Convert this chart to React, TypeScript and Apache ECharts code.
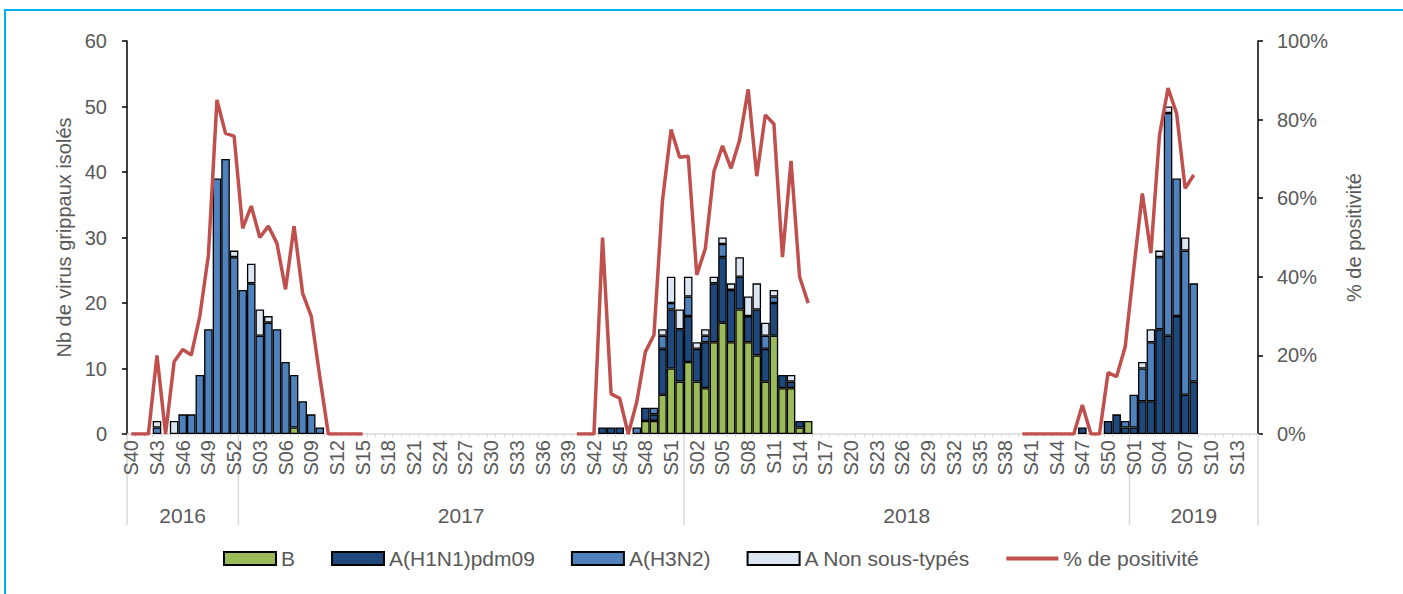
import React, { useEffect, useRef } from "react";
import * as echarts from "echarts";

// Years shown on the x axis and their week ranges
const YEARS = [
  { year: "2016", first: 40, last: 52 },
  { year: "2017", first: 1, last: 52 },
  { year: "2018", first: 1, last: 52 },
  { year: "2019", first: 1, last: 15 },
];

const categories: string[] = [];
const categoryYear: string[] = [];
YEARS.forEach((y) => {
  for (let w = y.first; w <= y.last; w++) {
    categories.push("S" + String(w).padStart(2, "0"));
    categoryYear.push(y.year);
  }
});

// ---- Season 2016-2017 (bars start 2016 S43, positivity starts 2016 S40)
const s1BarStart = ["2016", "S43"];
const s1B = [0, 0, 0, 0, 0, 0, 0, 0, 0, 0, 0, 0, 0, 0, 0, 0, 1, 0, 0, 0];
const s1H1N1 = [0, 0, 0, 0, 0, 0, 0, 0, 0, 0, 0, 0, 0, 0, 0, 0, 0, 0, 0, 0];
const s1H3N2 = [1, 0, 0, 3, 3, 9, 16, 39, 42, 27, 22, 23, 15, 17, 16, 11, 8, 5, 3, 1];
const s1NST = [1, 0, 2, 0, 0, 0, 0, 0, 0, 1, 0, 3, 4, 1, 0, 0, 0, 0, 0, 0];
const s1PosStart = ["2016", "S40"];
const s1Pos = [0, 0, 0, 20, 0, 18.4, 21.5, 20.1, 30, 45.5, 85, 76.5, 75.8, 52.3, 58, 50, 52.9, 48.5, 36.8, 52.9, 35.8, 30, 14.6, 0, 0, 0, 0, 0];

// ---- Season 2017-2018 (bars start 2017 S43, positivity starts 2017 S40)
const s2BarStart = ["2017", "S43"];
const s2B = [0, 0, 0, 0, 0, 2, 2, 6, 10, 8, 11, 8, 7, 14, 17, 14, 19, 14, 12, 8, 15, 7, 7, 1, 2];
const s2H1N1 = [1, 1, 1, 0, 0, 2, 1, 7, 9, 8, 7, 5, 7, 9, 10, 8, 5, 4, 7, 5, 5, 2, 1, 1, 0];
const s2H3N2 = [0, 0, 0, 0, 1, 0, 1, 2, 1, 0, 3, 0, 1, 0, 2, 0, 0, 0, 0, 2, 1, 0, 0, 0, 0];
const s2NST = [0, 0, 0, 0, 0, 0, 0, 1, 4, 3, 3, 1, 1, 1, 1, 1, 3, 3, 4, 2, 1, 0, 1, 0, 0];
const s2PosStart = ["2017", "S40"];
const s2Pos = [0, 0, 0, 50, 10.2, 9.1, 0, 8.2, 20.9, 25.2, 59.5, 77.5, 70.4, 70.7, 40.5, 47.2, 66.8, 73.3, 67.6, 74.8, 87.7, 65.6, 81.2, 78.9, 45, 69.5, 40, 33.3];

// ---- Season 2018-2019 (bars start 2018 S47, positivity starts 2018 S40)
const s3BarStart = ["2018", "S47"];
const s3B = [0, 0, 0, 0, 0, 0, 0, 0, 0, 0, 0, 0, 0, 0];
const s3H1N1 = [1, 0, 0, 2, 3, 1, 1, 5, 5, 16, 15, 18, 6, 8];
const s3H3N2 = [0, 0, 0, 0, 0, 1, 5, 5, 9, 11, 34, 21, 22, 15];
const s3NST = [0, 0, 0, 0, 0, 0, 0, 1, 2, 1, 1, 0, 2, 0];
const s3PosStart = ["2018", "S40"];
const s3Pos = [0, 0, 0, 0, 0, 0, 0, 7.4, 0, 0, 15.6, 14.6, 22.2, 42, 61.2, 46, 76, 88, 81.6, 62.5, 65.9];

const leftTicks = { min: 0, max: 60, interval: 10 };
const rightTicks = { min: 0, max: 100, interval: 20 };

const SERIES_NAMES = ["B", "A(H1N1)pdm09", "A(H3N2)", "A Non sous-typés", "% de positivité"];
const COLORS = ["#9BBB59", "#1F497D", "#4F81BD", "#DCE6F2", "#C0504D"];

function indexOf(key: string[]) {
  for (let i = 0; i < categories.length; i++) {
    if (categoryYear[i] === key[0] && categories[i] === key[1]) return i;
  }
  return 0;
}

function build(parts: [string[], number[]][], zeroAsNull: boolean) {
  const out: (number | null)[] = categories.map(() => null);
  parts.forEach(([start, vals]) => {
    const s = indexOf(start);
    vals.forEach((v, k) => {
      out[s + k] = zeroAsNull && v === 0 ? null : v;
    });
  });
  return out;
}

const TXT = "#595959";
const FONT = "Liberation Sans, Arial, sans-serif";

export default function App() {
  const ref = useRef<HTMLDivElement>(null);
  useEffect(() => {
    if (!ref.current) return;
    const chart = echarts.init(ref.current, undefined, { renderer: "svg" });
    const bData = build([[s1BarStart, s1B], [s2BarStart, s2B], [s3BarStart, s3B]], true);
    const h1Data = build([[s1BarStart, s1H1N1], [s2BarStart, s2H1N1], [s3BarStart, s3H1N1]], true);
    const h3Data = build([[s1BarStart, s1H3N2], [s2BarStart, s2H3N2], [s3BarStart, s3H3N2]], true);
    const nstData = build([[s1BarStart, s1NST], [s2BarStart, s2NST], [s3BarStart, s3NST]], true);
    const posData = build([[s1PosStart, s1Pos], [s2PosStart, s2Pos], [s3PosStart, s3Pos]], false);

    const barCommon = {
      type: "bar" as const,
      stack: "total",
      barCategoryGap: "0%",
      yAxisIndex: 0,
    };
    const border = { borderColor: "#000", borderWidth: 1.3 };

    chart.setOption({
      animation: false,
      textStyle: { fontFamily: FONT },
      grid: { left: 127, right: 145, top: 41, bottom: 160, containLabel: false },
      legend: {
        data: [
          { name: SERIES_NAMES[0], icon: "rect" },
          { name: SERIES_NAMES[1], icon: "rect" },
          { name: SERIES_NAMES[2], icon: "rect" },
          { name: SERIES_NAMES[3], icon: "rect" },
          {
            name: SERIES_NAMES[4],
            icon: "path://M0,0 L52,0 L52,4 L0,4 Z",
            itemStyle: { color: COLORS[4], borderWidth: 0 },
          },
        ],
        top: 543,
        left: 218,
        itemWidth: 52,
        itemHeight: 13,
        itemGap: 36,
        textStyle: { fontSize: 21, color: TXT, fontFamily: FONT },
      },
      xAxis: {
        type: "category",
        data: categories,
        axisLine: { lineStyle: { color: "#D9D9D9", width: 1.5 } },
        axisTick: { show: true, interval: 0, length: 3, lineStyle: { color: "#D9D9D9" } },
        axisLabel: { interval: 2, rotate: 90, fontSize: 20, color: TXT, margin: 6, fontFamily: FONT },
        splitLine: { show: false },
      },
      yAxis: [
        {
          type: "value",
          ...leftTicks,
          name: "Nb de virus grippaux isolés",
          nameLocation: "middle",
          nameGap: 52,
          nameTextStyle: { fontSize: 20, color: TXT, fontFamily: FONT },
          axisLine: { show: true, lineStyle: { color: "#000", width: 1.5 } },
          axisTick: { show: true, length: 5, lineStyle: { color: "#000", width: 1.5 } },
          axisLabel: { fontSize: 20, color: TXT, margin: 20, fontFamily: FONT },
          splitLine: { show: false },
        },
        {
          type: "value",
          ...rightTicks,
          position: "right",
          name: "% de positivité",
          nameLocation: "middle",
          nameGap: 86,
          nameTextStyle: { fontSize: 20, color: TXT, fontFamily: FONT },
          axisLine: { show: true, lineStyle: { color: "#000", width: 1.5 } },
          axisTick: { show: true, length: 5, lineStyle: { color: "#000", width: 1.5 } },
          axisLabel: { fontSize: 20, color: TXT, margin: 19, formatter: "{value}%", fontFamily: FONT },
          splitLine: { show: false },
        },
      ],
      series: [
        { ...barCommon, name: SERIES_NAMES[0], data: bData, itemStyle: { color: COLORS[0], ...border } },
        { ...barCommon, name: SERIES_NAMES[1], data: h1Data, itemStyle: { color: COLORS[1], ...border } },
        { ...barCommon, name: SERIES_NAMES[2], data: h3Data, itemStyle: { color: COLORS[2], ...border } },
        { ...barCommon, name: SERIES_NAMES[3], data: nstData, itemStyle: { color: COLORS[3], ...border } },
        {
          type: "line",
          name: SERIES_NAMES[4],
          yAxisIndex: 1,
          data: posData,
          symbol: "none",
          connectNulls: false,
          lineStyle: { color: COLORS[4], width: 3.5 },
          itemStyle: { color: COLORS[4] },
        },
      ],
    });

    // Year group labels and separators below the week labels
    const px = (i: number) => chart.convertToPixel({ xAxisIndex: 0 }, i) as number;
    const bw = px(1) - px(0);
    const y0 = 434;
    const graphics: any[] = [];
    let lastRight = 0;
    YEARS.forEach((y) => {
      const first = indexOf([y.year, "S" + String(y.first).padStart(2, "0")]);
      const last = indexOf([y.year, "S" + String(y.last).padStart(2, "0")]);
      const l = px(first) - bw / 2;
      const r = px(last) + bw / 2;
      lastRight = r;
      graphics.push({
        type: "line",
        shape: { x1: l, y1: y0, x2: l, y2: 525 },
        style: { stroke: "#D9D9D9", lineWidth: 1.5 },
        silent: true,
      });
      graphics.push({
        type: "text",
        x: (l + r) / 2,
        y: 515,
        style: {
          text: y.year,
          fontSize: 21,
          fill: TXT,
          fontFamily: FONT,
          align: "center",
          verticalAlign: "middle",
        },
        silent: true,
      });
    });
    graphics.push({
      type: "line",
      shape: { x1: lastRight, y1: y0, x2: lastRight, y2: 525 },
      style: { stroke: "#D9D9D9", lineWidth: 1.5 },
      silent: true,
    });
    // outer frame
    graphics.push({
      type: "rect",
      shape: { x: 5, y: 10, width: 1500, height: 700 },
      style: { fill: "none", stroke: "#00B0F0", lineWidth: 2 },
      silent: true,
      z: 100,
    });
    chart.setOption({ graphic: graphics });

    return () => chart.dispose();
  }, []);

  return (
    <div
      ref={ref}
      style={{ position: "fixed", left: 0, top: 0, width: 1403, height: 594, background: "#fff" }}
    />
  );
}
